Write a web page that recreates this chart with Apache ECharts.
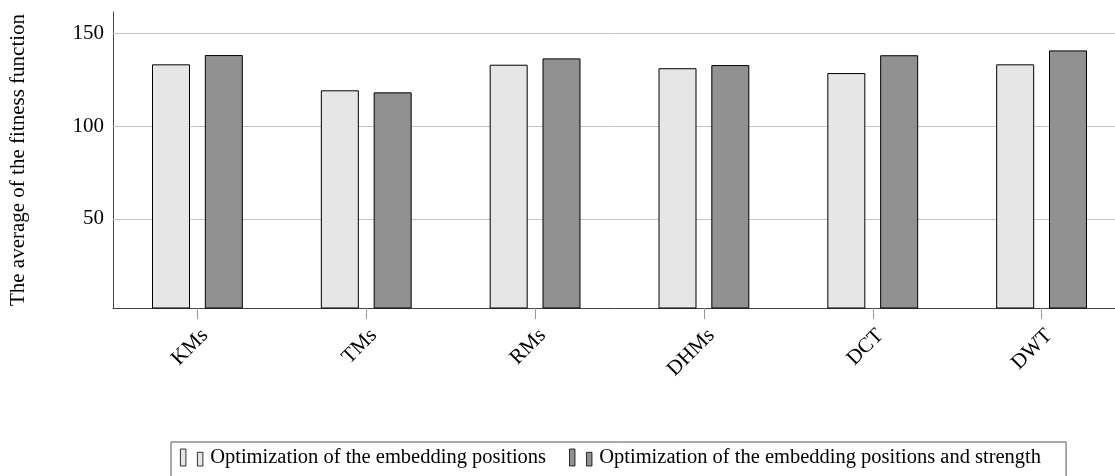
<!DOCTYPE html>
<html>
<head>
<meta charset="utf-8">
<script src="https://cdn.jsdelivr.net/npm/echarts@6/dist/echarts.min.js"></script>
<style>
  html, body { margin: 0; padding: 0; background: #fff; }
  #chart { width: 1115px; height: 476px; }
</style>
</head>
<body>
<div id="chart"></div>
<script>
// Average fitness per watermarking method, two optimisation settings
const categories = ['KMs', 'TMs', 'RMs', 'DHMs', 'DCT', 'DWT'];
const positionsOnly = [133.3, 119.3, 133.1, 131.2, 128.6, 133.3];
const positionsAndStrength = [138.3, 118.2, 136.5, 132.9, 138.2, 140.8];
const yTicks = [50, 100, 150];
const seriesNames = [
  'Optimization of the embedding positions',
  'Optimization of the embedding positions and strength'
];
const yTitle = 'The average of the fitness function';

const FONT = '"Liberation Serif", "DejaVu Serif", serif';

// two-bar legend glyph (tall bar + shorter bar)
const legendGlyph = 'path://M0,0H5.5V17H0ZM17,3.3H22.5V17H17Z';

const chart = echarts.init(document.getElementById('chart'), null, { renderer: 'canvas' });

chart.setOption({
  animation: false,
  backgroundColor: '#ffffff',
  textStyle: { fontFamily: FONT, color: '#000' },
  grid: {
    left: 113, top: 12, width: 1013, height: 296,
    containLabel: false,
    outerBoundsMode: 'none'
  },
  legend: {
    left: 171,
    top: 442,
    orient: 'horizontal',
    padding: [5, 25, 20, 9],
    itemGap: 23,
    itemWidth: 23,
    itemHeight: 17,
    borderColor: '#555',
    borderWidth: 1,
    icon: legendGlyph,
    itemStyle: { borderWidth: 0.8, borderColor: '#000' },
    textStyle: { fontFamily: FONT, fontSize: 20.5, color: '#000', padding: [0, 0, 0, 2] },
    data: seriesNames
  },
  xAxis: {
    type: 'category',
    data: categories,
    boundaryGap: true,
    axisLine: { show: true, lineStyle: { color: '#444', width: 1 } },
    axisTick: { show: true, alignWithLabel: true, inside: false, length: 11, lineStyle: { color: '#999' } },
    // labels hang from their upper-right corner, like a north-east anchor
    axisLabel: {
      interval: 0, rotate: 45, margin: 17, verticalAlign: 'top',
      fontSize: 21, fontFamily: FONT, color: '#000'
    },
    splitLine: { show: false }
  },
  yAxis: {
    type: 'value',
    min: 2,
    max: 161.5,
    name: yTitle,
    nameLocation: 'middle',
    nameRotate: 90,
    nameGap: 84,
    nameTextStyle: { fontSize: 21, fontFamily: FONT, color: '#000' },
    axisLine: { show: true, lineStyle: { color: '#444', width: 1 } },
    axisTick: { show: true, inside: true, length: 11, customValues: yTicks, lineStyle: { color: '#777' } },
    axisLabel: { show: true, margin: 9, fontSize: 21, fontFamily: FONT, color: '#000', customValues: yTicks },
    splitLine: { show: false }
  },
  series: [
    {
      name: seriesNames[0],
      type: 'bar',
      data: positionsOnly,
      barWidth: 38,
      barGap: '39%',
      itemStyle: { color: '#e6e6e6', borderColor: '#000', borderWidth: 1 },
      markLine: {
        silent: true,
        symbol: ['none', 'none'],
        z: 1,
        label: { show: false },
        lineStyle: { color: '#c4c4c4', type: 'solid', width: 1 },
        data: yTicks.map(v => ({ yAxis: v }))
      }
    },
    {
      name: seriesNames[1],
      type: 'bar',
      data: positionsAndStrength,
      barWidth: 38,
      barGap: '39%',
      itemStyle: { color: '#919191', borderColor: '#000', borderWidth: 1 }
    }
  ]
});
</script>
</body>
</html>
